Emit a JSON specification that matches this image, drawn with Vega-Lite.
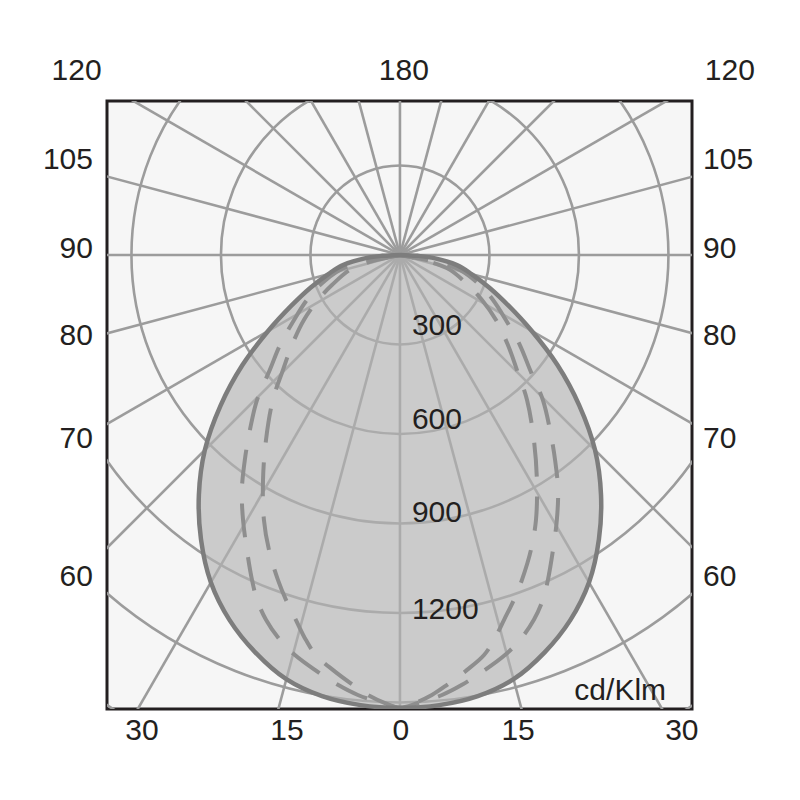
{
  "$schema": "https://vega.github.io/schema/vega-lite/v6.json",
  "width": 585,
  "height": 608,
  "autosize": {"type": "none"},
  "padding": {"left": 107, "top": 101, "right": 108, "bottom": 91},
  "background": "#ffffff",
  "config": {"view": {"fill": "#f6f6f6", "stroke": "#231f20", "strokeWidth": 3}},
  "datasets": {
    "circles": [{"x": 0, "y": 0, "r": 300}, {"x": 0, "y": 0, "r": 600}, {"x": 0, "y": 0, "r": 900}, {"x": 0, "y": 0, "r": 1200}, {"x": 0, "y": 0, "r": 1500}, {"x": 0, "y": 0, "r": 1800}],
    "rays": [
      {"x": 0, "y": 2200, "x2": 0, "y2": -2200},
      {"x": 569, "y": 2125, "x2": -569, "y2": -2125},
      {"x": 1100, "y": 1905, "x2": -1100, "y2": -1905},
      {"x": 1556, "y": 1556, "x2": -1556, "y2": -1556},
      {"x": 1905, "y": 1100, "x2": -1905, "y2": -1100},
      {"x": 2125, "y": 569, "x2": -2125, "y2": -569},
      {"x": 2200, "y": 0, "x2": -2200, "y2": 0},
      {"x": 2125, "y": -569, "x2": -2125, "y2": 569},
      {"x": 1905, "y": -1100, "x2": -1905, "y2": 1100},
      {"x": 1556, "y": -1556, "x2": -1556, "y2": 1556},
      {"x": 1100, "y": -1905, "x2": -1100, "y2": 1905},
      {"x": 569, "y": -2125, "x2": -569, "y2": 2125}
    ],
    "curves": [
      {"c": "solid", "i": 0, "x": 0, "y": 0},
      {"c": "solid", "i": 1, "x": -60, "y": -3},
      {"c": "solid", "i": 2, "x": -111, "y": -10},
      {"c": "solid", "i": 3, "x": -191, "y": -34},
      {"c": "solid", "i": 4, "x": -240, "y": -64},
      {"c": "solid", "i": 5, "x": -299, "y": -109},
      {"c": "solid", "i": 6, "x": -364, "y": -170},
      {"c": "solid", "i": 7, "x": -442, "y": -255},
      {"c": "solid", "i": 8, "x": -528, "y": -369},
      {"c": "solid", "i": 9, "x": -601, "y": -504},
      {"c": "solid", "i": 10, "x": -654, "y": -654},
      {"c": "solid", "i": 11, "x": -674, "y": -804},
      {"c": "solid", "i": 12, "x": -667, "y": -953},
      {"c": "solid", "i": 13, "x": -634, "y": -1097},
      {"c": "solid", "i": 14, "x": -571, "y": -1224},
      {"c": "solid", "i": 15, "x": -485, "y": -1332},
      {"c": "solid", "i": 16, "x": -381, "y": -1422},
      {"c": "solid", "i": 17, "x": -261, "y": -1479},
      {"c": "solid", "i": 18, "x": -132, "y": -1509},
      {"c": "solid", "i": 19, "x": 0, "y": -1518},
      {"c": "solid", "i": 20, "x": 132, "y": -1509},
      {"c": "solid", "i": 21, "x": 261, "y": -1479},
      {"c": "solid", "i": 22, "x": 381, "y": -1422},
      {"c": "solid", "i": 23, "x": 485, "y": -1332},
      {"c": "solid", "i": 24, "x": 571, "y": -1224},
      {"c": "solid", "i": 25, "x": 634, "y": -1097},
      {"c": "solid", "i": 26, "x": 667, "y": -953},
      {"c": "solid", "i": 27, "x": 674, "y": -804},
      {"c": "solid", "i": 28, "x": 654, "y": -654},
      {"c": "solid", "i": 29, "x": 601, "y": -504},
      {"c": "solid", "i": 30, "x": 528, "y": -369},
      {"c": "solid", "i": 31, "x": 442, "y": -255},
      {"c": "solid", "i": 32, "x": 364, "y": -170},
      {"c": "solid", "i": 33, "x": 299, "y": -109},
      {"c": "solid", "i": 34, "x": 240, "y": -64},
      {"c": "solid", "i": 35, "x": 191, "y": -34},
      {"c": "solid", "i": 36, "x": 111, "y": -10},
      {"c": "solid", "i": 37, "x": 60, "y": -3},
      {"c": "solid", "i": 38, "x": 0, "y": 0},

      {"c": "outer", "i": 0, "x": 0, "y": 0},
      {"c": "outer", "i": 1, "x": -117, "y": -23},
      {"c": "outer", "i": 2, "x": -201, "y": -50},
      {"c": "outer", "i": 3, "x": -268, "y": -101},
      {"c": "outer", "i": 4, "x": -312, "y": -151},
      {"c": "outer", "i": 5, "x": -355, "y": -218},
      {"c": "outer", "i": 6, "x": -402, "y": -302},
      {"c": "outer", "i": 7, "x": -436, "y": -385},
      {"c": "outer", "i": 8, "x": -479, "y": -486},
      {"c": "outer", "i": 9, "x": -503, "y": -587},
      {"c": "outer", "i": 10, "x": -520, "y": -687},
      {"c": "outer", "i": 11, "x": -530, "y": -788},
      {"c": "outer", "i": 12, "x": -526, "y": -888},
      {"c": "outer", "i": 13, "x": -513, "y": -989},
      {"c": "outer", "i": 14, "x": -496, "y": -1089},
      {"c": "outer", "i": 15, "x": -479, "y": -1156},
      {"c": "outer", "i": 16, "x": -449, "y": -1223},
      {"c": "outer", "i": 17, "x": -402, "y": -1291},
      {"c": "outer", "i": 18, "x": -352, "y": -1341},
      {"c": "outer", "i": 19, "x": -285, "y": -1391},
      {"c": "outer", "i": 20, "x": -208, "y": -1441},
      {"c": "outer", "i": 21, "x": -141, "y": -1475},
      {"c": "outer", "i": 22, "x": -60, "y": -1502},
      {"c": "outer", "i": 23, "x": 0, "y": -1518},
      {"c": "outer", "i": 24, "x": 60, "y": -1502},
      {"c": "outer", "i": 25, "x": 141, "y": -1475},
      {"c": "outer", "i": 26, "x": 208, "y": -1441},
      {"c": "outer", "i": 27, "x": 285, "y": -1391},
      {"c": "outer", "i": 28, "x": 352, "y": -1341},
      {"c": "outer", "i": 29, "x": 402, "y": -1291},
      {"c": "outer", "i": 30, "x": 449, "y": -1223},
      {"c": "outer", "i": 31, "x": 479, "y": -1156},
      {"c": "outer", "i": 32, "x": 496, "y": -1089},
      {"c": "outer", "i": 33, "x": 513, "y": -989},
      {"c": "outer", "i": 34, "x": 526, "y": -888},
      {"c": "outer", "i": 35, "x": 530, "y": -788},
      {"c": "outer", "i": 36, "x": 520, "y": -687},
      {"c": "outer", "i": 37, "x": 503, "y": -587},
      {"c": "outer", "i": 38, "x": 479, "y": -486},
      {"c": "outer", "i": 39, "x": 436, "y": -385},
      {"c": "outer", "i": 40, "x": 402, "y": -302},
      {"c": "outer", "i": 41, "x": 355, "y": -218},
      {"c": "outer", "i": 42, "x": 312, "y": -151},
      {"c": "outer", "i": 43, "x": 268, "y": -101},
      {"c": "outer", "i": 44, "x": 201, "y": -50},
      {"c": "outer", "i": 45, "x": 117, "y": -23},
      {"c": "outer", "i": 46, "x": 0, "y": 0},

      {"c": "inner", "i": 0, "x": 0, "y": 0},
      {"c": "inner", "i": 1, "x": -101, "y": -23},
      {"c": "inner", "i": 2, "x": -168, "y": -50},
      {"c": "inner", "i": 3, "x": -228, "y": -101},
      {"c": "inner", "i": 4, "x": -275, "y": -151},
      {"c": "inner", "i": 5, "x": -322, "y": -218},
      {"c": "inner", "i": 6, "x": -362, "y": -302},
      {"c": "inner", "i": 7, "x": -392, "y": -385},
      {"c": "inner", "i": 8, "x": -426, "y": -486},
      {"c": "inner", "i": 9, "x": -449, "y": -620},
      {"c": "inner", "i": 10, "x": -459, "y": -754},
      {"c": "inner", "i": 11, "x": -456, "y": -888},
      {"c": "inner", "i": 12, "x": -439, "y": -989},
      {"c": "inner", "i": 13, "x": -409, "y": -1089},
      {"c": "inner", "i": 14, "x": -382, "y": -1156},
      {"c": "inner", "i": 15, "x": -349, "y": -1223},
      {"c": "inner", "i": 16, "x": -315, "y": -1291},
      {"c": "inner", "i": 17, "x": -282, "y": -1341},
      {"c": "inner", "i": 18, "x": -225, "y": -1391},
      {"c": "inner", "i": 19, "x": -158, "y": -1441},
      {"c": "inner", "i": 20, "x": -107, "y": -1475},
      {"c": "inner", "i": 21, "x": -50, "y": -1502},
      {"c": "inner", "i": 22, "x": 0, "y": -1518},
      {"c": "inner", "i": 23, "x": 50, "y": -1502},
      {"c": "inner", "i": 24, "x": 107, "y": -1475},
      {"c": "inner", "i": 25, "x": 158, "y": -1441},
      {"c": "inner", "i": 26, "x": 225, "y": -1391},
      {"c": "inner", "i": 27, "x": 282, "y": -1341},
      {"c": "inner", "i": 28, "x": 315, "y": -1291},
      {"c": "inner", "i": 29, "x": 349, "y": -1223},
      {"c": "inner", "i": 30, "x": 382, "y": -1156},
      {"c": "inner", "i": 31, "x": 409, "y": -1089},
      {"c": "inner", "i": 32, "x": 439, "y": -989},
      {"c": "inner", "i": 33, "x": 456, "y": -888},
      {"c": "inner", "i": 34, "x": 459, "y": -754},
      {"c": "inner", "i": 35, "x": 449, "y": -620},
      {"c": "inner", "i": 36, "x": 426, "y": -486},
      {"c": "inner", "i": 37, "x": 392, "y": -385},
      {"c": "inner", "i": 38, "x": 362, "y": -302},
      {"c": "inner", "i": 39, "x": 322, "y": -218},
      {"c": "inner", "i": 40, "x": 275, "y": -151},
      {"c": "inner", "i": 41, "x": 228, "y": -101},
      {"c": "inner", "i": 42, "x": 168, "y": -50},
      {"c": "inner", "i": 43, "x": 101, "y": -23},
      {"c": "inner", "i": 44, "x": 0, "y": 0}
    ],
    "labels_l": [
      {"t": "120", "x": 1022, "y": 617},
      {"t": "105", "x": 1016, "y": 318},
      {"t": "90", "x": 1016, "y": 20},
      {"t": "80", "x": 1016, "y": -272},
      {"t": "70", "x": 1016, "y": -617},
      {"t": "60", "x": 1016, "y": -1079},
      {"t": "300", "x": 40, "y": -238},
      {"t": "600", "x": 40, "y": -553},
      {"t": "900", "x": 40, "y": -865},
      {"t": "1200", "x": 40, "y": -1190}
    ],
    "labels_r": [
      {"t": "120", "x": -1000, "y": 617},
      {"t": "105", "x": -1029, "y": 318},
      {"t": "90", "x": -1029, "y": 20},
      {"t": "80", "x": -1029, "y": -272},
      {"t": "70", "x": -1029, "y": -617},
      {"t": "60", "x": -1029, "y": -1079},
      {"t": "cd/Klm", "x": 892, "y": -1461}
    ],
    "labels_c": [
      {"t": "180", "x": 13, "y": 617},
      {"t": "30", "x": -865, "y": -1596},
      {"t": "15", "x": -379, "y": -1596},
      {"t": "0", "x": 3, "y": -1596},
      {"t": "15", "x": 396, "y": -1596},
      {"t": "30", "x": 945, "y": -1596}
    ]
  },
  "encoding": {
    "x": {"field": "x", "type": "quantitative", "scale": {"domain": [-982, 979], "nice": false, "zero": false}, "axis": null},
    "y": {"field": "y", "type": "quantitative", "scale": {"domain": [-1522, 516], "nice": false, "zero": false}, "axis": null}
  },
  "layer": [
    {
      "data": {"name": "circles"},
      "mark": {"type": "point", "shape": "circle", "filled": false, "stroke": "#9c9c9c", "strokeWidth": 2.6, "opacity": 1, "clip": true},
      "encoding": {
        "size": {"field": "r", "type": "quantitative", "scale": {"type": "pow", "exponent": 2, "domain": [0, 1800], "range": [0, 1153476], "zero": true}, "legend": null}
      }
    },
    {
      "data": {"name": "rays"},
      "mark": {"type": "rule", "stroke": "#9c9c9c", "strokeWidth": 2.6, "clip": true},
      "encoding": {
        "x2": {"field": "x2"},
        "y2": {"field": "y2"}
      }
    },
    {
      "data": {"name": "curves"},
      "transform": [{"filter": "datum.c == 'solid'"}],
      "mark": {"type": "line", "interpolate": "catmull-rom", "fill": "#b4b4b4", "fillOpacity": 0.65, "strokeOpacity": 0, "clip": true},
      "encoding": {"order": {"field": "i", "type": "quantitative"}}
    },
    {
      "data": {"name": "curves"},
      "transform": [{"filter": "datum.c != 'solid'"}],
      "mark": {"type": "line", "interpolate": "catmull-rom", "stroke": "#8e8e8e", "strokeWidth": 4, "strokeDash": [34, 20], "clip": true},
      "encoding": {"detail": {"field": "c"}, "order": {"field": "i", "type": "quantitative"}}
    },
    {
      "data": {"name": "curves"},
      "transform": [{"filter": "datum.c == 'solid'"}],
      "mark": {"type": "line", "interpolate": "catmull-rom", "stroke": "#7d7d7d", "strokeWidth": 4.5, "clip": true},
      "encoding": {"order": {"field": "i", "type": "quantitative"}}
    },
    {
      "data": {"name": "labels_l"},
      "mark": {"type": "text", "align": "left", "baseline": "middle", "font": "Liberation Sans", "fontSize": 30, "fill": "#231f20"},
      "encoding": {"text": {"field": "t"}}
    },
    {
      "data": {"name": "labels_r"},
      "mark": {"type": "text", "align": "right", "baseline": "middle", "font": "Liberation Sans", "fontSize": 30, "fill": "#231f20"},
      "encoding": {"text": {"field": "t"}}
    },
    {
      "data": {"name": "labels_c"},
      "mark": {"type": "text", "align": "center", "baseline": "middle", "font": "Liberation Sans", "fontSize": 30, "fill": "#231f20"},
      "encoding": {"text": {"field": "t"}}
    }
  ]
}
